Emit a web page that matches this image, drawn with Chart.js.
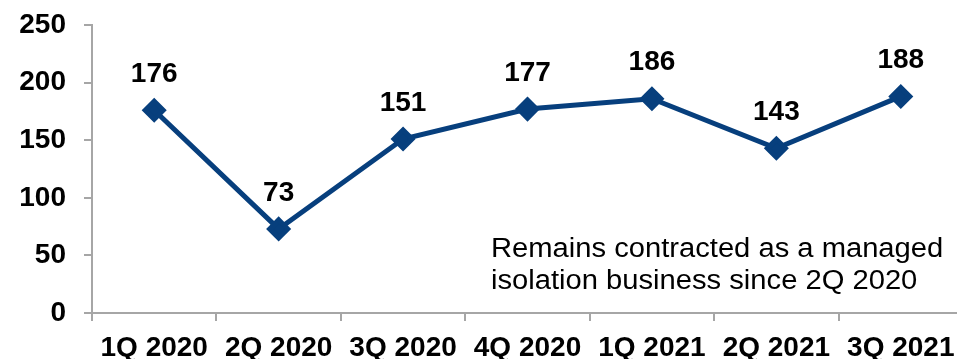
<!DOCTYPE html>
<html>
<head>
<meta charset="utf-8">
<script src="https://cdn.jsdelivr.net/npm/chart.js@4"></script>
<style>
  html, body { margin: 0; padding: 0; background: #fff; overflow: hidden; }
  #wrap { width: 957px; height: 359px; overflow: hidden; }
</style>
</head>
<body>
<div id="wrap"><canvas id="occChart" width="977" height="359"></canvas></div>
<script>
// quarterly figures
var quarters = ['1Q 2020', '2Q 2020', '3Q 2020', '4Q 2020', '1Q 2021', '2Q 2021', '3Q 2021'];
var values = [176, 73, 151, 177, 186, 143, 188];
var yTicks = [0, 50, 100, 150, 200, 250];
var noteLines = ['Remains contracted as a managed', 'isolation business since 2Q 2020'];

var navy = '#073f7d';
var axisGrey = '#a6a6a6';
var fontFamily = '"Liberation Sans", Arial, sans-serif';

// value labels above each diamond
var valueLabels = {
    id: 'valueLabels',
    afterDatasetsDraw: function (chart) {
        var ctx = chart.ctx;
        var meta = chart.getDatasetMeta(0);
        ctx.save();
        ctx.font = 'bold 28px ' + fontFamily;
        ctx.fillStyle = '#000';
        ctx.textAlign = 'center';
        ctx.textBaseline = 'middle';
        meta.data.forEach(function (pt, i) {
            ctx.fillText(values[i], pt.x, pt.y - 36);
        });
        ctx.restore();
    }
};

// side note in the lower right (slightly widened type)
var sideNote = {
    id: 'sideNote',
    afterDraw: function (chart) {
        var ctx = chart.ctx;
        ctx.save();
        ctx.translate(491, 0);
        ctx.scale(1.08, 1);
        ctx.font = '27px ' + fontFamily;
        ctx.fillStyle = '#000';
        ctx.textAlign = 'left';
        ctx.textBaseline = 'alphabetic';
        ctx.fillText(noteLines[0], 0, 257);
        ctx.fillText(noteLines[1], 0, 289);
        ctx.restore();
    }
};

new Chart(document.getElementById('occChart'), {
    type: 'line',
    data: {
        labels: quarters,
        datasets: [{
            data: values,
            borderColor: navy,
            backgroundColor: navy,
            borderWidth: 5,
            pointStyle: 'rectRot',
            pointRadius: 9,
            pointHoverRadius: 9,
            tension: 0
        }]
    },
    options: {
        responsive: false,
        animation: false,
        layout: { padding: { top: 25, right: 3, left: 0, bottom: 0 } },
        plugins: {
            legend: { display: false },
            tooltip: { enabled: false }
        },
        scales: {
            x: {
                offset: true,
                grid: {
                    offset: true,
                    drawOnChartArea: false,
                    drawTicks: true,
                    tickLength: 8,
                    color: axisGrey,
                    lineWidth: 2
                },
                border: { color: axisGrey, width: 2 },
                ticks: {
                    color: '#000',
                    padding: 10,
                    maxRotation: 0,
                    autoSkip: false,
                    font: { family: fontFamily, size: 28, weight: 'bold' }
                },
                afterFit: function (scale) {
                    scale.height = 46;
                    scale.paddingLeft = 0;
                    scale.paddingRight = 0;
                }
            },
            y: {
                min: 0,
                max: 250,
                afterBuildTicks: function (scale) {
                    scale.ticks = yTicks.map(function (v) { return { value: v }; });
                },
                grid: {
                    drawOnChartArea: false,
                    drawTicks: true,
                    tickLength: 8,
                    color: axisGrey,
                    lineWidth: 2
                },
                border: { color: axisGrey, width: 2 },
                ticks: {
                    color: '#000',
                    padding: 18,
                    font: { family: fontFamily, size: 28, weight: 'bold' }
                },
                afterFit: function (scale) {
                    scale.width = 92;
                    scale.paddingTop = 0;
                    scale.paddingBottom = 0;
                }
            }
        }
    },
    plugins: [valueLabels, sideNote]
});
</script>
</body>
</html>
